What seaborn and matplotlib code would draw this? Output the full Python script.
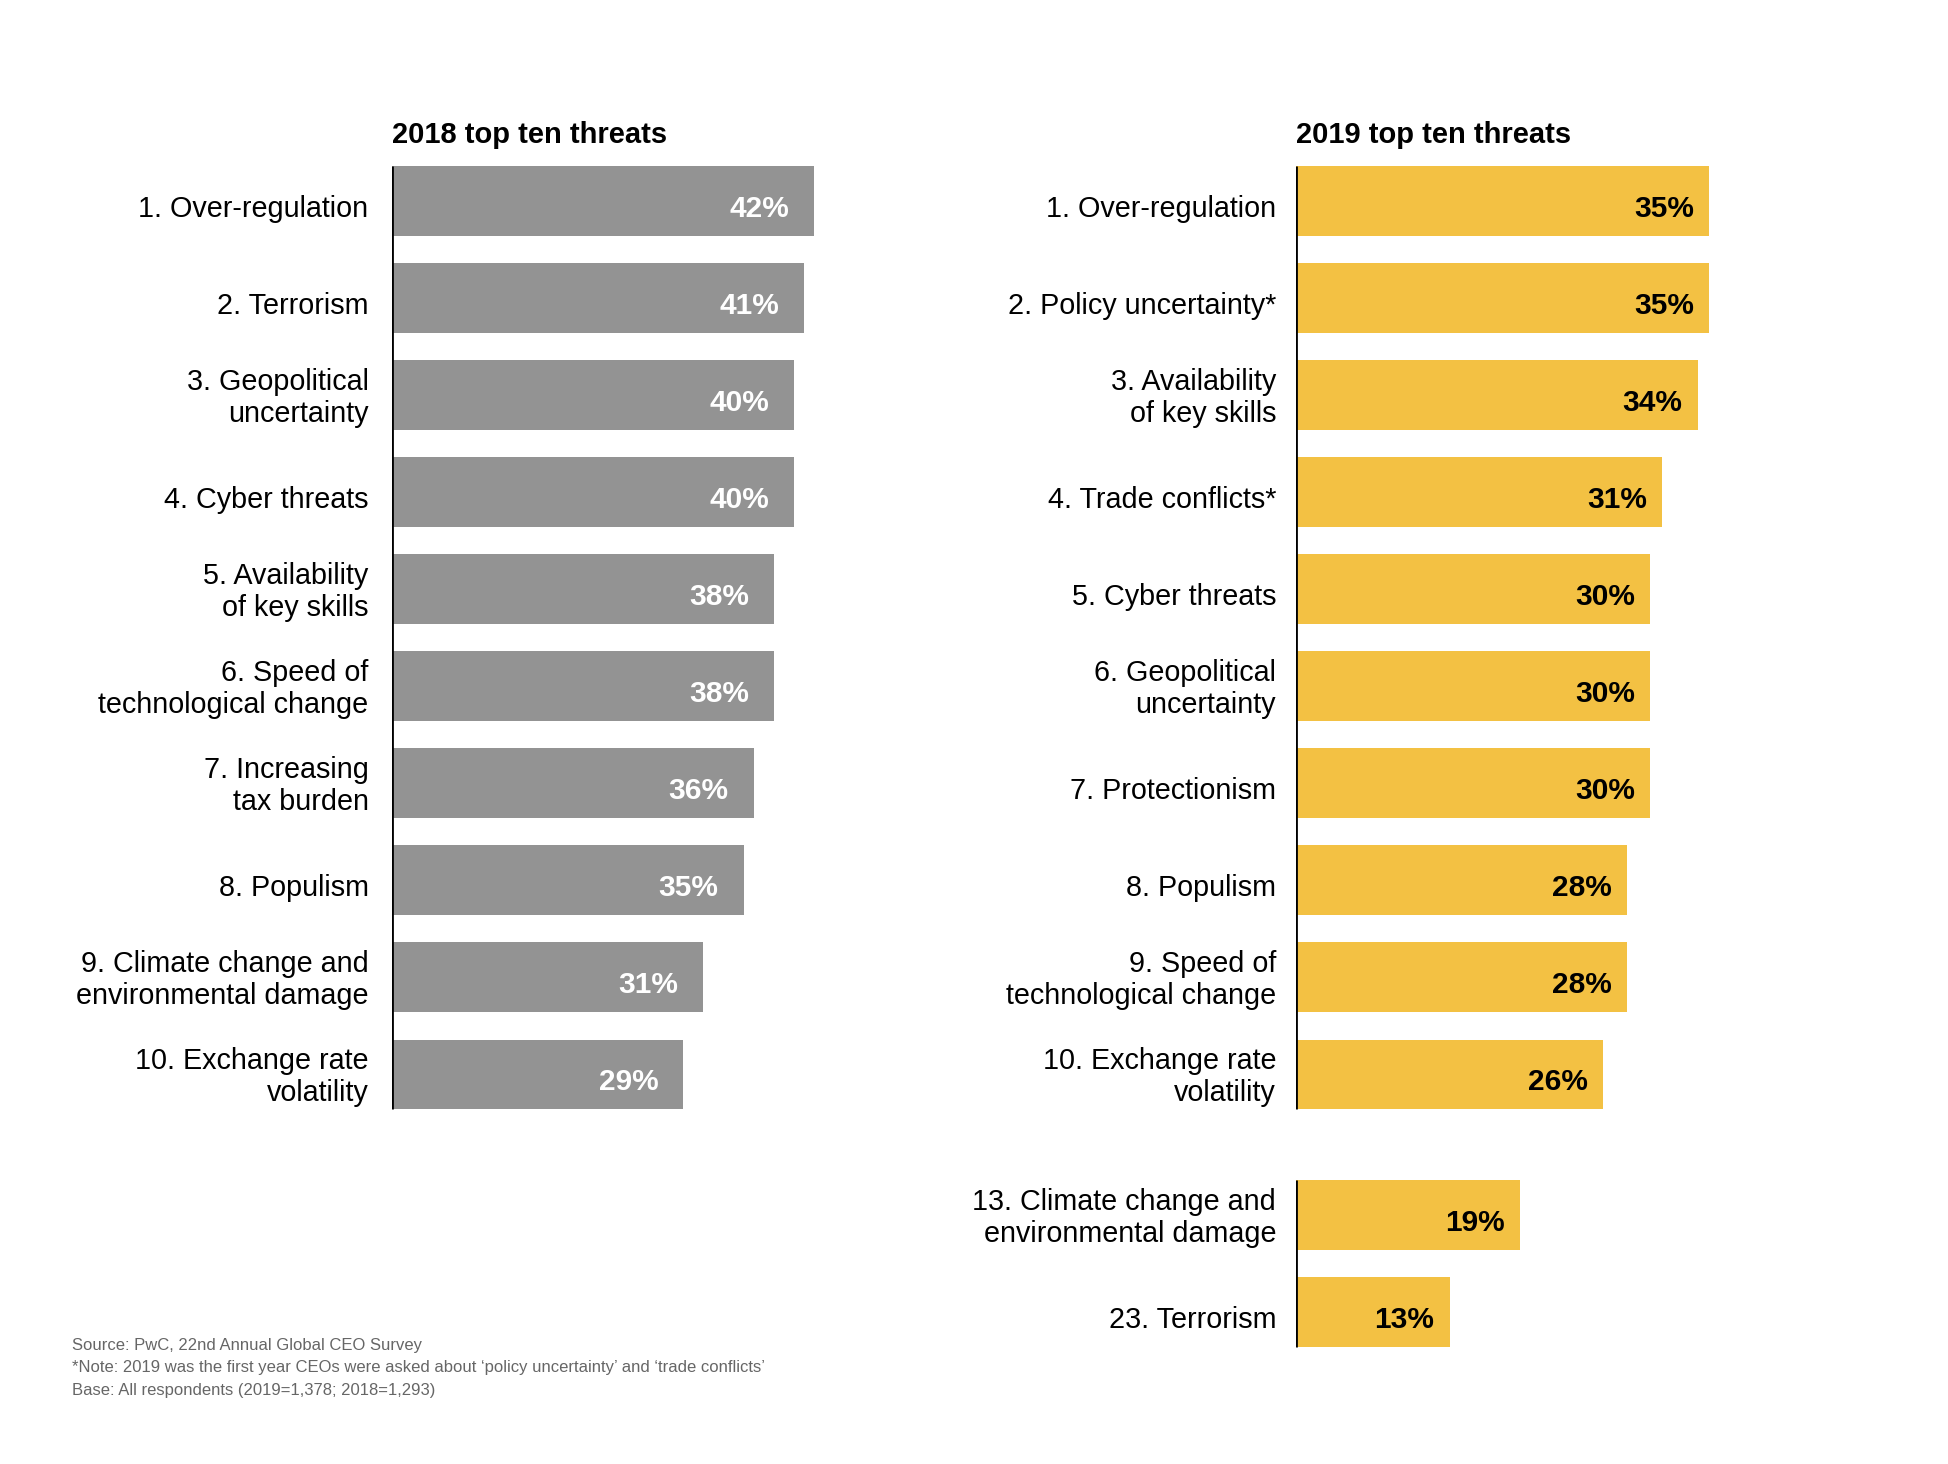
import seaborn as sns
import pandas as pd
import numpy as np
import matplotlib.pyplot as plt

# 2018 top ten threats
labels_2018 = ["1. Over-regulation", "2. Terrorism", "3. Geopolitical\nuncertainty",
               "4. Cyber threats", "5. Availability\nof key skills",
               "6. Speed of\ntechnological change", "7. Increasing\ntax burden",
               "8. Populism", "9. Climate change and\nenvironmental damage",
               "10. Exchange rate\nvolatility"]
values_2018 = [42, 41, 40, 40, 38, 38, 36, 35, 31, 29]
pos_2018 = [0, 1, 2, 3, 4, 5, 6, 7, 8, 9]

# 2019 top ten threats (+ two lower-ranked ones shown below a gap)
labels_2019 = ["1. Over-regulation", "2. Policy uncertainty*", "3. Availability\nof key skills",
               "4. Trade conflicts*", "5. Cyber threats", "6. Geopolitical\nuncertainty",
               "7. Protectionism", "8. Populism", "9. Speed of\ntechnological change",
               "10. Exchange rate\nvolatility", "13. Climate change and\nenvironmental damage",
               "23. Terrorism"]
values_2019 = [35, 35, 34, 31, 30, 30, 30, 28, 28, 26, 19, 13]
pos_2019 = [0, 1, 2, 3, 4, 5, 6, 7, 8, 9, 10.45, 11.45]

GRAY = "#939393"
YELLOW = "#F3C143"

sns.set_style("white")
plt.rcParams["font.family"] = ["Liberation Sans", "DejaVu Sans"]
plt.rcParams["text.color"] = "black"

fig = plt.figure(figsize=(19.48, 14.64), dpi=100)
ax1 = fig.add_axes([0.2013, 0.0705, 0.232, 0.8254])
ax2 = fig.add_axes([0.6654, 0.0705, 0.246, 0.8254])

df18 = pd.DataFrame({"pos": pos_2018, "value": values_2018})
df19 = pd.DataFrame({"pos": pos_2019, "value": values_2019})

bw = 0.72
sns.barplot(data=df18, x="value", y="pos", orient="h", native_scale=True,
            color=GRAY, saturation=1, width=bw, linewidth=0, ax=ax1)
sns.barplot(data=df19, x="value", y="pos", orient="h", native_scale=True,
            color=YELLOW, saturation=1, width=bw, linewidth=0, ax=ax2)

panels = [
    (ax1, pos_2018, labels_2018, values_2018, 45, "white", -18, -17, "2018 top ten threats",
     [(0, 9)]),
    (ax2, pos_2019, labels_2019, values_2019, 40.6, "black", -11, -14.5, "2019 top ten threats",
     [(0, 9), (10.45, 11.45)]),
]

for ax, pos, labs, vals, xmax, tcol, off, lpad, title, groups in panels:
    ax.set_xlim(0, xmax)
    ax.set_ylim(11.95, -0.5)
    ax.set_yticks(pos)
    ax.set_yticklabels([])
    ax.tick_params(axis="y", length=0)
    ax.set_xticks([])
    ax.set_xlabel("")
    ax.set_ylabel("")
    for s in ax.spines.values():
        s.set_visible(False)
    # category labels, right-aligned left of the axis line
    for p, lab in zip(pos, labs):
        dy = -2 if "\n" in lab else -5.5
        ax.annotate(lab, xy=(0, p), xytext=(lpad, dy), textcoords="offset points",
                    ha="right", va="center", fontsize=20.7, color="black",
                    annotation_clip=False)
    for a, b in groups:
        ax.vlines(0, a - bw / 2, b + bw / 2, color="black", linewidth=2)
    for p, v in zip(pos, vals):
        ax.annotate(f"{v}%", xy=(v, p), xytext=(off, -5.5), textcoords="offset points",
                    ha="right", va="center", fontsize=21.5, fontweight="bold", color=tcol)
    ax.text(0, -0.68, title, ha="left", va="center", fontsize=21, fontweight="bold",
            color="black")

notes = ["Source: PwC, 22nd Annual Global CEO Survey",
         "*Note: 2019 was the first year CEOs were asked about \u2018policy uncertainty\u2019 and \u2018trade conflicts\u2019",
         "Base: All respondents (2019=1,378; 2018=1,293)"]
for i, n in enumerate(notes):
    fig.text(0.0372, 0.081 - i * 0.0154, n, fontsize=12, color="#666666", va="center")

fig.savefig("out.png", dpi=100, facecolor="white")
